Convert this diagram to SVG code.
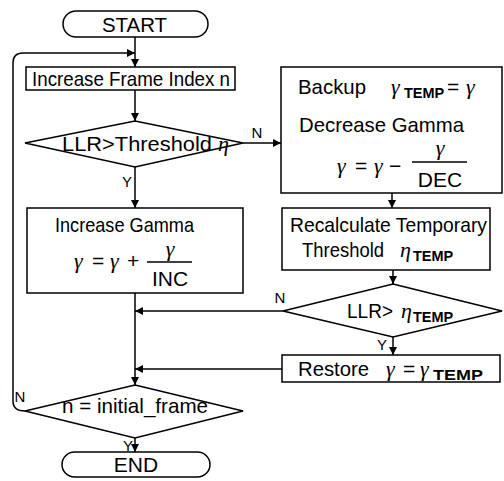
<svg xmlns="http://www.w3.org/2000/svg" width="504" height="481" viewBox="0 0 504 481">
<style>
.box{fill:#fff;stroke:#000;stroke-width:1.5}
.ln{fill:none;stroke:#000;stroke-width:1.5}
.t{font-family:"Liberation Sans",Arial,sans-serif;font-size:21px;fill:#000}
.c{text-anchor:middle}
.lb{font-family:"Liberation Sans",Arial,sans-serif;font-size:15px;fill:#000}
.g{font-family:"Liberation Serif","Times New Roman",serif;font-style:italic;font-size:22px;fill:#000}
.sub{font-family:"Liberation Sans",Arial,sans-serif;font-weight:bold;font-size:14.5px;fill:#000}
</style>
<defs>
<marker id="ah" viewBox="0 0 10 10" refX="10" refY="5" markerWidth="8" markerHeight="8" markerUnits="userSpaceOnUse" orient="auto"><path d="M0,0 L10,5 L0,10 z" fill="#000"/></marker>
</defs>
<g id="connectors">
<path class="ln" d="M135,37 V67" marker-end="url(#ah)"/>
<path class="ln" d="M25,411 Q13,411 13,401 V63 Q13,53 23,53 H135" marker-end="url(#ah)"/>
<path class="ln" d="M135,90 V121" marker-end="url(#ah)"/>
<path class="ln" d="M243,143 H281" marker-end="url(#ah)"/>
<path class="ln" d="M135,167 V208" marker-end="url(#ah)"/>
<path class="ln" d="M392,193 V208" marker-end="url(#ah)"/>
<path class="ln" d="M393,270 V284" marker-end="url(#ah)"/>
<path class="ln" d="M283,311 H135" marker-end="url(#ah)"/>
<path class="ln" d="M393,337 V355" marker-end="url(#ah)"/>
<path class="ln" d="M282,369 H135" marker-end="url(#ah)"/>
<path class="ln" d="M135,293 V385" marker-end="url(#ah)"/>
<path class="ln" d="M135,438 V452" marker-end="url(#ah)"/>
<text class="lb c" x="257" y="138">N</text>
<text class="lb c" x="127" y="187">Y</text>
<text class="lb c" x="280" y="303">N</text>
<text class="lb c" x="382" y="350">Y</text>
<text class="lb c" x="20" y="402">N</text>
<text class="lb c" x="128" y="451">Y</text>
</g>
<g id="start">
<rect class="box" x="63" y="11" width="145" height="26" rx="13"/>
<text class="t" x="102" y="32" textLength="65" lengthAdjust="spacingAndGlyphs">START</text>
</g>
<g id="increase-frame">
<rect class="box" x="26" y="67" width="209" height="23"/>
<text class="t" x="32" y="86" textLength="198" lengthAdjust="spacingAndGlyphs">Increase Frame Index n</text>
</g>
<g id="decision-threshold">
<polygon class="box" points="135,121 243,143 135,167 25,143"/>
<text class="t" x="62" y="151" textLength="150" lengthAdjust="spacingAndGlyphs">LLR&gt;Threshold</text>
<text class="g" x="218" y="151">η</text>
</g>
<g id="backup">
<rect class="box" x="281" y="67" width="221" height="126"/>
<text class="t" x="298" y="94" textLength="68" lengthAdjust="spacingAndGlyphs">Backup</text>
<text class="g" x="391" y="94">γ</text>
<text class="sub" x="404" y="98">TEMP</text>
<text class="t" x="447" y="94">=</text>
<text class="g" x="466" y="94">γ</text>
<text class="t" x="299" y="132" textLength="165" lengthAdjust="spacingAndGlyphs">Decrease Gamma</text>
<text class="g" x="337" y="173">γ</text>
<text class="t" x="355" y="173">=</text>
<text class="g" x="374" y="173">γ</text>
<text class="t" x="389" y="173">−</text>
<text class="g c" x="440" y="155">γ</text>
<line class="ln" x1="412" y1="162" x2="467" y2="162"/>
<text class="t c" x="440" y="187">DEC</text>
</g>
<g id="increase-gamma">
<rect class="box" x="27" y="208" width="216" height="85"/>
<text class="t" x="55" y="232" textLength="139" lengthAdjust="spacingAndGlyphs">Increase Gamma</text>
<text class="g" x="74" y="268">γ</text>
<text class="t" x="92" y="268">=</text>
<text class="g" x="110" y="268">γ</text>
<text class="t" x="127" y="268">+</text>
<text class="g c" x="170" y="256" font-size="20">γ</text>
<line class="ln" x1="147" y1="262" x2="192" y2="262"/>
<text class="t c" x="170" y="286">INC</text>
</g>
<g id="recalculate">
<rect class="box" x="282" y="208" width="208" height="62"/>
<text class="t" x="290" y="232" textLength="197" lengthAdjust="spacingAndGlyphs">Recalculate Temporary</text>
<text class="t" x="302" y="257" textLength="82" lengthAdjust="spacingAndGlyphs">Threshold</text>
<text class="g" x="400" y="257">η</text>
<text class="sub" x="413" y="261">TEMP</text>
</g>
<g id="decision-temp">
<polygon class="box" points="393,284 502,311 393,337 283,311"/>
<text class="t" x="347" y="318" textLength="46" lengthAdjust="spacingAndGlyphs">LLR&gt;</text>
<text class="g" x="401" y="318">η</text>
<text class="sub" x="413" y="322">TEMP</text>
</g>
<g id="restore">
<rect class="box" x="282" y="355" width="218" height="27"/>
<text class="t" x="298" y="376" textLength="71" lengthAdjust="spacingAndGlyphs">Restore</text>
<text class="g" x="386" y="376">γ</text>
<text class="t" x="403" y="376">=</text>
<text class="g" x="420" y="376">γ</text>
<text class="sub" x="433" y="380" textLength="50" lengthAdjust="spacingAndGlyphs">TEMP</text>
</g>
<g id="decision-frame">
<polygon class="box" points="135,385 243,411 135,438 25,411"/>
<text class="t" x="62" y="413" textLength="146" lengthAdjust="spacingAndGlyphs">n = initial_frame</text>
</g>
<g id="end">
<rect class="box" x="62" y="452" width="148" height="25" rx="12.5"/>
<text class="t c" x="136" y="472">END</text>
</g>
</svg>
